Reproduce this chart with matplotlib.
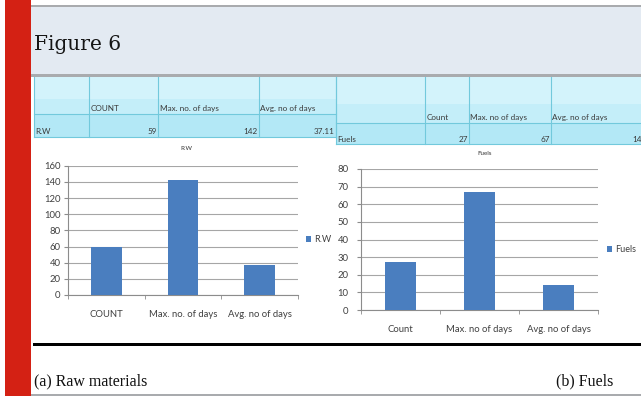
import matplotlib
matplotlib.use("Agg")
import matplotlib.pyplot as plt
from matplotlib.patches import Rectangle

W, H = 641, 396

rw_cats = ["COUNT", "Max. no. of days", "Avg. no of days"]
rw_vals = [59, 142, 37.11]
fuel_cats = ["Count", "Max. no of days", "Avg. no of days"]
fuel_vals = [27, 67, 14]

BAR = "#4a7ebf"
GRID = "#a6a6a6"
SANS = ["Lato", "DejaVu Sans"]

fig = plt.figure(figsize=(W / 100, H / 100), dpi=100)
fig.patch.set_facecolor("white")

# background layer in pixel coords (y down)
bg = fig.add_axes([0, 0, 1, 1])
bg.set_xlim(0, W)
bg.set_ylim(H, 0)
bg.axis("off")


def box(x0, y0, x1, y1, **kw):
    bg.add_patch(Rectangle((x0, y0), x1 - x0, y1 - y0, **kw))


# page furniture
box(5, 0, 31, H, color="#d42114", lw=0)
box(31, 4.5, W, 7, color="#a9abae", lw=0)
box(31, 7, W, 74, color="#e3eaf2", lw=0)
box(31, 74, W, 76.5, color="#a9abae", lw=0)
bg.text(34, 44, "Figure 6", family="DejaVu Serif", fontsize=14.5,
        color="#151515", va="center", ha="left")


def table(cols, ytop, ysep, ybot, name, cats, vals):
    x0, x1 = cols[0], cols[-1]
    # light cyan, a bit deeper towards the bottom of each row
    box(x0, ytop, x1, ysep, facecolor="#d3f3fb", edgecolor="none")
    box(x0, ytop + (ysep - ytop) * 0.6, x1, ysep, facecolor="#c4eef9", edgecolor="none")
    box(x0, ysep, x1, ybot, facecolor="#b3e8f6", edgecolor="none")
    lc = "#72c9dc"
    for x in cols:
        bg.plot([x, x], [ytop, ybot], color=lc, lw=0.8)
    for y in (ysep, ybot):
        bg.plot([x0, x1], [y, y], color=lc, lw=0.8)
    tkw = dict(family=SANS, fontsize=5.9, color="#3a3a3a", va="bottom")
    bg.text(x0 + 1, ybot - 1.5, name, ha="left", **tkw)
    for i, (c, v) in enumerate(zip(cats, vals)):
        bg.text(cols[i + 1] + 1.5, ysep - 2, c, ha="left", **tkw)
        bg.text(cols[i + 2] - 1, ybot - 1.5, f"{v:g}", ha="right", **tkw)


table([34, 89, 158, 259, 336], 76.5, 114, 137, "R.W", rw_cats, rw_vals)
table([336, 425, 469, 551, 643], 76.5, 123, 144, "Fuels", fuel_cats, fuel_vals)


def chart(x0, x1, ytop, ybot, cats, vals, ymax, step, name, title_xy, leg_xy, ypad):
    ax = fig.add_axes([x0 / W, 1 - ybot / H, (x1 - x0) / W, (ybot - ytop) / H])
    ax.set_facecolor("none")
    xs = range(len(cats))
    ax.bar(xs, vals, width=0.4, color=BAR, label=name, zorder=3)
    ax.set_xlim(-0.5, len(cats) - 0.5)
    ax.set_ylim(0, ymax)
    ax.set_yticks(range(0, ymax + 1, step))
    ax.set_xticks(list(xs))
    ax.set_xticklabels(cats)
    ax.set_xticks([i - 0.5 for i in range(len(cats) + 1)], minor=True)
    ax.grid(axis="y", color=GRID, lw=0.8, zorder=0)
    for s in ("top", "right"):
        ax.spines[s].set_visible(False)
    for s in ("left", "bottom"):
        ax.spines[s].set_color("#8c8c8c")
        ax.spines[s].set_linewidth(0.8)
    ax.tick_params(axis="x", which="major", length=0, pad=10.5,
                   labelsize=6.8, labelcolor="#404040")
    ax.tick_params(axis="x", which="minor", length=3, color="#8c8c8c")
    ax.tick_params(axis="y", length=3, color="#8c8c8c", pad=ypad,
                   labelsize=6.8, labelcolor="#404040")
    for lab in ax.get_xticklabels() + ax.get_yticklabels():
        lab.set_family(SANS)
    fig.text(title_xy[0] / W, 1 - title_xy[1] / H, name, family=SANS,
             fontsize=4.5, color="#333333", ha="center", va="center")
    leg = ax.legend(loc="center left", bbox_to_anchor=(leg_xy[0] / W, 1 - leg_xy[1] / H),
                    bbox_transform=fig.transFigure, frameon=False,
                    handlelength=0.6, handleheight=0.6, handletextpad=0.3,
                    borderpad=0, borderaxespad=0, prop={"family": SANS, "size": 6.5})
    for t in leg.get_texts():
        t.set_color("#404040")
    return ax


chart(68, 298, 165.7, 295, rw_cats, rw_vals, 160, 20, "R.W", (186, 149), (306, 240), 2.5)
chart(361, 598, 169, 310, fuel_cats, fuel_vals, 80, 10, "Fuels", (485, 154), (607, 250), 6)

# bottom rule and captions
box(33, 342.5, W, 345.5, color="black", lw=0)
box(31, 393.5, W, H, color="#a9abae", lw=0)
ckw = dict(family="Liberation Serif", fontsize=11.5, color="#111111", va="center")
bg.text(34, 381, "(a) Raw materials", ha="left", **ckw)
bg.text(556, 381, "(b) Fuels", ha="left", **ckw)

fig.savefig("out.png", dpi=100)
